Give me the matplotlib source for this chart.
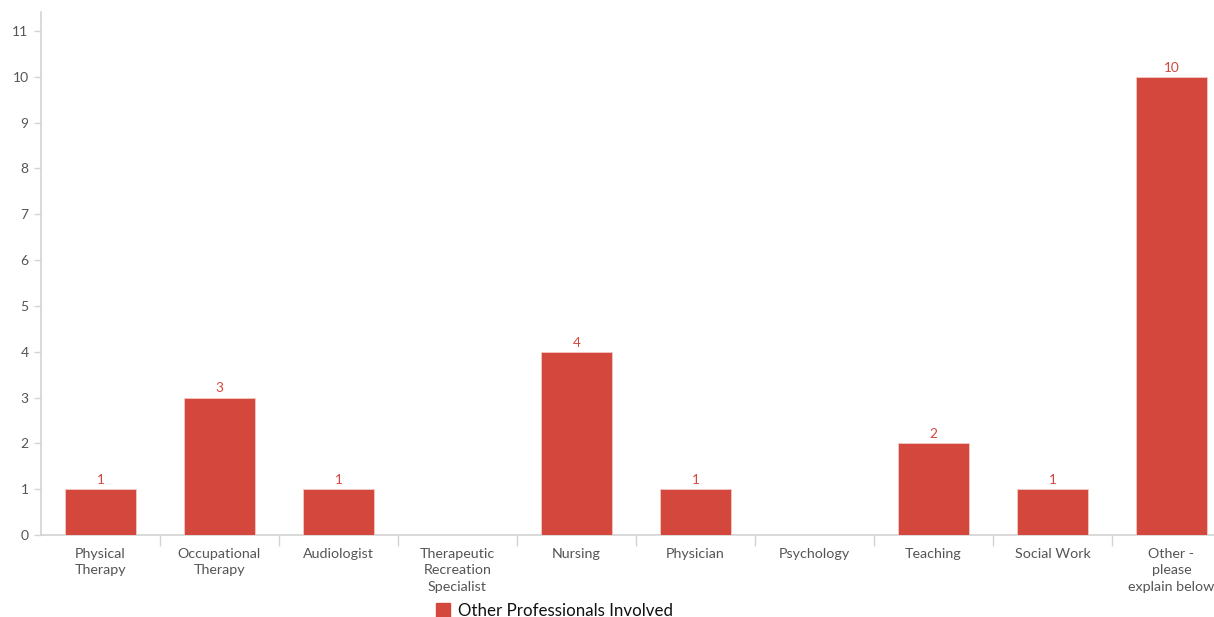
import matplotlib
matplotlib.use("Agg")
import matplotlib.pyplot as plt
import numpy as np

categories = ["Physical\nTherapy", "Occupational\nTherapy", "Audiologist",
              "Therapeutic\nRecreation\nSpecialist", "Nursing", "Physician",
              "Psychology", "Teaching", "Social Work", "Other -\nplease\nexplain below"]
counts = [1, 3, 1, 0, 4, 1, 0, 2, 1, 10]
y_ticks = list(range(0, 12))
series_name = "Other Professionals Involved"

bar_color = "#D4473D"
axis_color = "#D3D3D3"
label_color = "#555555"

plt.rcParams["font.family"] = ["Lato", "DejaVu Sans"]

W, H = 1214, 617
fig = plt.figure(figsize=(W / 100, H / 100), dpi=100)
left, right, bottom, top = 41, 1231, 535, 12
ax = fig.add_axes([left / W, (H - bottom) / H, (right - left) / W, (bottom - top) / H])

x = np.arange(len(categories))
bars = ax.bar(x, counts, width=0.6, color=bar_color, edgecolor="#F2C9C5",
              linewidth=0.6, zorder=3)
for xi, v in zip(x, counts):
    if v > 0:
        ax.text(xi, v + 0.07, str(v), ha="center", va="bottom",
                color=bar_color, fontsize=9.8)

ax.set_xlim(-0.5, len(categories) - 0.5)
ax.set_ylim(0, (bottom - top) / ((bottom - 31) / 11))
ax.set_yticks(y_ticks)
ax.tick_params(axis="y", colors=axis_color, labelcolor=label_color,
               labelsize=10, length=5, width=1, pad=4)

ax.set_xticks(x)
ax.set_xticklabels(categories, color=label_color, fontsize=10.3, linespacing=1.42)
ax.tick_params(axis="x", which="major", length=0, pad=9.5)
ax.set_xticks(x[:-1] + 0.5, minor=True)
ax.tick_params(axis="x", which="minor", length=8, width=1, colors=axis_color)

for side in ["top", "right"]:
    ax.spines[side].set_visible(False)
for side in ["left", "bottom"]:
    ax.spines[side].set_color(axis_color)
    ax.spines[side].set_linewidth(1.2)

# legend entry below the axis
fig.patches.append(plt.Rectangle((436 / W, (H - 618) / H), 14 / W, 15 / H,
                                 transform=fig.transFigure, color=bar_color))
fig.text(458 / W, (H - 611) / H, series_name, fontsize=12.2, color="#111111",
         va="center", ha="left")

fig.savefig("out.png", dpi=100)
